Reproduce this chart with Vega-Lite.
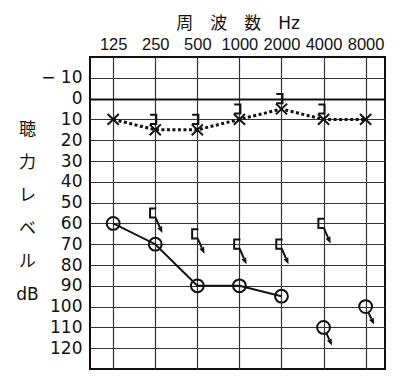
{
  "$schema": "https://vega.github.io/schema/vega-lite/v6.json",
  "width": 295,
  "height": 312,
  "autosize": {"type": "none"},
  "padding": {"left": 90, "top": 57, "right": 15, "bottom": 13},
  "background": "white",
  "config": {
    "view": {"stroke": "#111", "strokeWidth": 2},
    "font": "Liberation Sans, Noto Sans CJK JP"
  },
  "data": {
    "values": [
      {"series": "R-air", "freq": 125, "dB": 60},
      {"series": "R-air", "freq": 250, "dB": 70},
      {"series": "R-air", "freq": 500, "dB": 90},
      {"series": "R-air", "freq": 1000, "dB": 90},
      {"series": "R-air", "freq": 2000, "dB": 95},
      {"series": "R-air-NR", "freq": 4000, "dB": 110},
      {"series": "R-air-NR", "freq": 8000, "dB": 100},
      {"series": "L-air", "freq": 125, "dB": 10},
      {"series": "L-air", "freq": 250, "dB": 15},
      {"series": "L-air", "freq": 500, "dB": 15},
      {"series": "L-air", "freq": 1000, "dB": 10},
      {"series": "L-air", "freq": 2000, "dB": 5},
      {"series": "L-air", "freq": 4000, "dB": 10},
      {"series": "L-air", "freq": 8000, "dB": 10},
      {"series": "L-bone", "freq": 250, "dB": 10},
      {"series": "L-bone", "freq": 500, "dB": 10},
      {"series": "L-bone", "freq": 1000, "dB": 5},
      {"series": "L-bone", "freq": 2000, "dB": 0},
      {"series": "L-bone", "freq": 4000, "dB": 5},
      {"series": "R-bone-NR", "freq": 250, "dB": 55},
      {"series": "R-bone-NR", "freq": 500, "dB": 65},
      {"series": "R-bone-NR", "freq": 1000, "dB": 70},
      {"series": "R-bone-NR", "freq": 2000, "dB": 70},
      {"series": "R-bone-NR", "freq": 4000, "dB": 60}
    ]
  },
  "encoding": {
    "x": {
      "field": "freq",
      "type": "quantitative",
      "scale": {"type": "log", "base": 2, "domain": [85.3, 11010], "nice": false, "zero": false},
      "axis": {
        "orient": "top",
        "values": [125, 250, 500, 1000, 2000, 4000, 8000],
        "format": "d",
        "grid": true,
        "gridColor": "#333",
        "gridWidth": 1.2,
        "gridOpacity": 1,
        "ticks": false,
        "tickSize": 0,
        "domain": false,
        "labelFont": "Liberation Sans",
        "labelFontSize": 16.5,
        "labelColor": "#111",
        "labelPadding": 5,
        "labelFlush": false,
        "labelOverlap": false,
        "title": "周　波　数　Hz",
        "titleFont": "DejaVu Sans, Noto Sans CJK JP",
        "titleFontSize": 17,
        "titleFontWeight": "normal",
        "titleColor": "#111",
        "titlePadding": 4
      }
    },
    "y": {
      "field": "dB",
      "type": "quantitative",
      "scale": {"domain": [-20, 130], "reverse": true, "nice": false, "zero": false},
      "axis": {
        "values": [-10, 0, 10, 20, 30, 40, 50, 60, 70, 80, 90, 100, 110, 120],
        "format": "d",
        "labelExpr": "datum.value < 0 ? '− ' + (-datum.value) : datum.label",
        "grid": true,
        "gridColor": {"condition": {"test": "datum.value === 0", "value": "#111"}, "value": "#333"},
        "gridWidth": {"condition": {"test": "datum.value === 0", "value": 2.2}, "value": 1.2},
        "gridOpacity": 1,
        "ticks": false,
        "tickSize": 0,
        "domain": false,
        "labelFont": "DejaVu Sans",
        "labelFontSize": 17,
        "labelColor": "#111",
        "labelPadding": 8,
        "labelOverlap": false,
        "title": ["聴", "力", "レ", "ベ", "ル", "dB"],
        "titleFont": "DejaVu Sans, Noto Sans CJK JP",
        "titleAngle": 0,
        "titleAlign": "center",
        "titleBaseline": "top",
        "titleX": -63,
        "titleY": 64,
        "titleLineHeight": 33,
        "titleFontSize": 17,
        "titleFontWeight": "normal",
        "titleColor": "#111"
      }
    }
  },
  "layer": [
    {
      "transform": [{"filter": "datum.series === 'R-air'"}],
      "mark": {"type": "line", "color": "#111", "strokeWidth": 2}
    },
    {
      "transform": [{"filter": "datum.series === 'L-air'"}],
      "mark": {"type": "line", "color": "#111", "strokeWidth": 3, "strokeDash": [3, 2.5]}
    },
    {
      "transform": [{"filter": "datum.series === 'L-air'"}],
      "mark": {"type": "point", "shape": "M-1.4,-1.35L1.4,1.35M1.4,-1.35L-1.4,1.35", "size": 64, "filled": false, "stroke": "#111", "strokeWidth": 2, "opacity": 1}
    },
    {
      "transform": [{"filter": "datum.series === 'R-air'"}],
      "mark": {"type": "point", "shape": "M-1.6,0A1.6,1.6,0,1,0,1.6,0A1.6,1.6,0,1,0,-1.6,0Z", "size": 64, "filled": false, "stroke": "#111", "strokeWidth": 2, "opacity": 1}
    },
    {
      "transform": [{"filter": "datum.series === 'R-air-NR'"}],
      "mark": {"type": "point", "shape": "M-1.6,0A1.6,1.6,0,1,0,1.6,0A1.6,1.6,0,1,0,-1.6,0ZM0.69,1.44L1.454,3.046", "size": 64, "filled": false, "stroke": "#111", "strokeWidth": 2, "opacity": 1}
    },
    {
      "transform": [{"filter": "datum.series === 'R-air-NR'"}],
      "mark": {"type": "point", "shape": "M0.86,3.33L2.12,4.5L2.04,2.76Z", "size": 64, "filled": true, "color": "#111", "strokeWidth": 0, "opacity": 1}
    },
    {
      "transform": [{"filter": "datum.series === 'L-bone'"}],
      "mark": {"type": "point", "shape": "M-1.3,-1.15H0.25V1.15H-1.3", "size": 64, "filled": false, "stroke": "#111", "strokeWidth": 2, "opacity": 1}
    },
    {
      "transform": [{"filter": "datum.series === 'R-bone-NR'"}],
      "mark": {"type": "point", "shape": "M0.25,-1.15H-1.3V1.15H0.25M0.1,1.2L1.12,3.54", "size": 64, "filled": false, "stroke": "#111", "strokeWidth": 2, "opacity": 1}
    },
    {
      "transform": [{"filter": "datum.series === 'R-bone-NR'"}],
      "mark": {"type": "point", "shape": "M0.52,3.82L1.78,5.0L1.7,3.24Z", "size": 64, "filled": true, "color": "#111", "strokeWidth": 0, "opacity": 1}
    }
  ]
}
